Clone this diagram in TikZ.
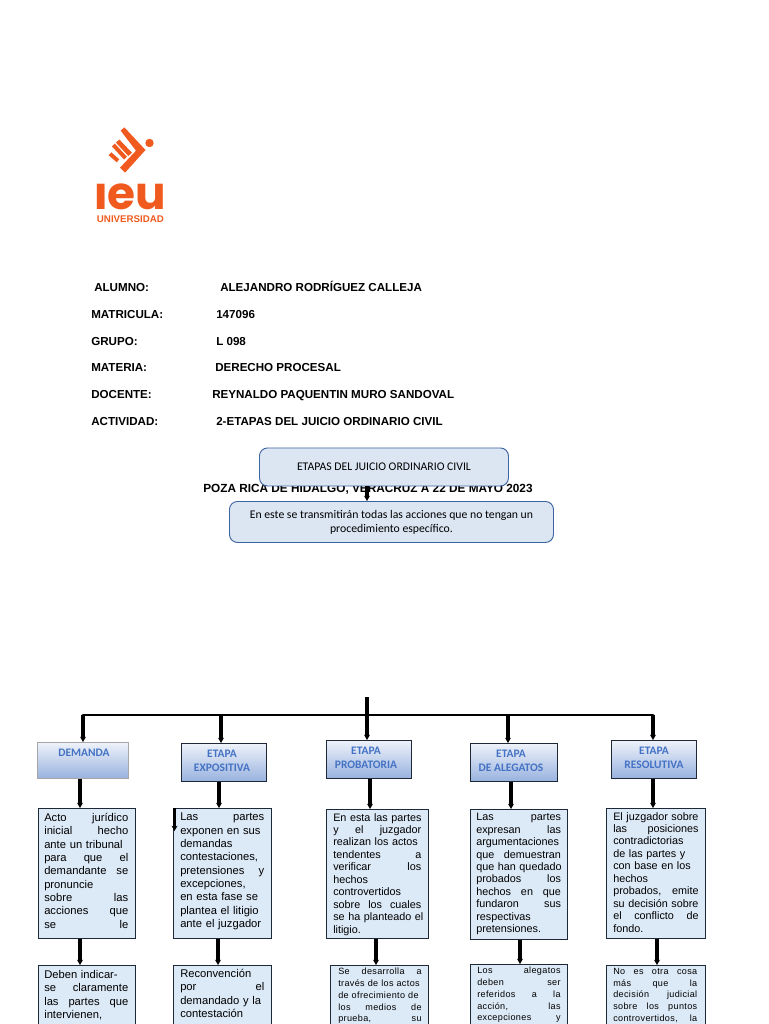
\documentclass[tikz,border=0pt]{standalone}
\usepackage{xcolor}
\usepackage{tikz}
\usepackage{fontspec}
\usetikzlibrary{arrows.meta}
\setmainfont{Liberation Sans}
\newfontfamily\calibri{Carlito}
\newfontfamily\popp{Poppins}
\newfontfamily\spaced[LetterSpace=4]{Liberation Sans}
\hyphenpenalty=10000
\definecolor{ieuorange}{RGB}{240, 90, 30}
\definecolor{etapablue}{RGB}{68, 114, 196}
\definecolor{boxblue}{RGB}{220, 233, 246}
\definecolor{roundblue}{RGB}{220, 230, 243}
\definecolor{roundedge}{RGB}{60, 100, 160}
\definecolor{darkedge}{RGB}{30, 40, 55}
\tikzset{
  datatext/.style={anchor=base west, inner sep=0pt, font=\bfseries\fontsize{8.7}{10}\selectfont},
  roundbox/.style={draw=roundedge, fill=roundblue, rounded corners=6pt, line width=0.7pt, anchor=north west, align=center, inner sep=0pt, font=\calibri\fontsize{8.8}{10.5}\selectfont},
  etapabox/.style={draw=darkedge, line width=0.7pt, top color=white!70!etapablue!30, bottom color=etapablue!55, anchor=north west, inner sep=0pt},
  etapatext/.style={inner sep=0pt, align=center, text=etapablue, font=\calibri\bfseries\fontsize{8.6}{10.5}\selectfont},
  bodybox/.style={draw=darkedge, fill=boxblue, line width=0.7pt, anchor=north west, inner sep=0pt},
  bodytext/.style={anchor=north west, inner sep=0pt, align=left, text width=63pt, font=\fontsize{8.4}{10}\selectfont},
  tighttext/.style={bodytext, font=\fontsize{8.1}{9.33}\selectfont},
  smalltext/.style={anchor=north west, inner sep=0pt, align=left, text width=62.5pt, font=\spaced\fontsize{6.8}{8.8}\selectfont},
  conn/.style={line width=2.4pt, -{Stealth[length=4pt,width=4.5pt]}},
  bar/.style={line width=2.2pt, line cap=round}
}
\begin{document}
\begin{tikzpicture}[x=0.75pt, y=-0.75pt]
\useasboundingbox (0,0) rectangle (768,1024);
\clip (0,0) rectangle (768,1024);

\fill[ieuorange] (120.7,130.7) -- (124.3,127.3) -- (145.5,150) -- (125,172.7) -- (120,167.7) -- (136,150.7) -- cycle;
\fill[ieuorange] (116,142.7) -- (119.3,139.5) -- (132,152.7) -- (128.3,156) -- cycle;
\fill[ieuorange] (112,146.5) -- (114.7,143.5) -- (127,156.7) -- (124,159.5) -- cycle;
\fill[ieuorange] (108.7,155.3) -- (111.3,152.3) -- (119.3,159.3) -- (116.7,162.3) -- cycle;
\fill[ieuorange] (149.5,143) circle (4.2);
\begin{scope}
\clip (90,183.5) rectangle (170,212);
\node[anchor=base, inner sep=0pt, text height=14pt, text depth=0pt, text=ieuorange, font=\popp\bfseries\fontsize{34}{34}\selectfont] (logoname) at (130,209) {ieu};
\end{scope}
\node[inner sep=0pt, text=ieuorange, font=\bfseries\fontsize{7.3}{7.3}\selectfont] (logouni) at (130.5,219) {UNIVERSIDAD};

\node[datatext] (alumno) at (94,291) {ALUMNO:};
\node[datatext] (alumnoval) at (220,291) {ALEJANDRO RODRÍGUEZ CALLEJA};
\node[datatext] (matricula) at (91,318) {MATRICULA:};
\node[datatext] (matriculaval) at (216,318) {147096};
\node[datatext] (grupo) at (91,345) {GRUPO:};
\node[datatext] (grupoval) at (216,345) {L 098};
\node[datatext] (materia) at (91,371) {MATERIA:};
\node[datatext] (materiaval) at (215,371) {DERECHO PROCESAL};
\node[datatext] (docente) at (91,398) {DOCENTE:};
\node[datatext] (docenteval) at (212,398) {REYNALDO PAQUENTIN MURO SANDOVAL};
\node[datatext] (actividad) at (91,425) {ACTIVIDAD:};
\node[datatext] (actividadval) at (216,425) {2-ETAPAS DEL JUICIO ORDINARIO CIVIL};
\node[datatext, font=\bfseries\fontsize{8.85}{10}\selectfont] (lugar) at (203,492) {POZA RICA DE HIDALGO, VERACRUZ A 22 DE MAYO  2023};

\node[roundbox, minimum width=186.75pt, minimum height=28.5pt] (titulo) at (259,447.5) {ETAPAS DEL JUICIO ORDINARIO CIVIL};
\node[roundbox, minimum width=243pt, minimum height=30.75pt] (intro) at (229,501) {En este se transmitirán todas las acciones que no tengan un\\procedimiento específico.};
\coordinate (xtit) at (367,0);
\draw[conn] (titulo.south -| xtit) -- (intro.north -| xtit);

\coordinate (raiz) at (367,697);
\coordinate (barl) at (83,715);
\coordinate (barr) at (653,715);
\draw[bar] (barl) -- (barr);

\node[etapabox, minimum width=68.25pt, minimum height=27pt, draw=gray!70] (hdem) at (37,742) {};
\node[etapabox, minimum width=63.75pt, minimum height=28.5pt] (hexp) at (181,743) {};
\node[etapabox, minimum width=63.75pt, minimum height=28.5pt] (hpro) at (326,740) {};
\node[etapabox, minimum width=65.25pt, minimum height=28.5pt] (hale) at (470,743) {};
\node[etapabox, minimum width=63.75pt, minimum height=28.5pt] (hres) at (611,740) {};
\node[etapatext] (tdem) at (84,753) {DEMANDA};
\node[etapatext] (texp) at (222,760.5) {ETAPA\\EXPOSITIVA};
\node[etapatext] (tpro) at (366,758) {ETAPA\\PROBATORIA};
\node[etapatext] (tale) at (511,760.5) {ETAPA\\ DE ALEGATOS};
\node[etapatext] (tres) at (654,758) {ETAPA\\RESOLUTIVA};

\coordinate (xexp) at (221,715);
\coordinate (xale) at (508,715);
\draw[conn] (barl) -- (hdem.north -| barl);
\draw[conn] (xexp) -- (hexp.north -| xexp);
\draw[conn] (raiz) -- (hpro.north -| raiz);
\draw[conn] (xale) -- (hale.north -| xale);
\draw[conn] (barr) -- (hres.north -| barr);

\node[bodybox, minimum width=72.75pt, minimum height=97.5pt] (bdem) at (38,808) {};
\node[bodybox, minimum width=73.5pt, minimum height=97.5pt] (bexp) at (173,808) {};
\node[bodybox, minimum width=76.5pt, minimum height=97pt] (bpro) at (326,809) {};
\node[bodybox, minimum width=72.75pt, minimum height=97.5pt] (bale) at (470,809) {};
\node[bodybox, minimum width=74.25pt, minimum height=97.5pt] (bres) at (606,808) {};

\node[bodytext] (cdem) at (44,813) {Acto\hfill jurídico\\inicial\hfill hecho\\ante un tribunal\\para\hfill que\hfill el\\demandante\hfill se\\pronuncie\\sobre\hfill las\\acciones\hfill que\\se\hfill le};
\node[bodytext] (cexp) at (180,813) {Las\hfill partes\\exponen en sus\\demandas\\contestaciones,\\pretensiones\hfill y\\excepciones,\\en esta fase se\\plantea el litigio\\ante el juzgador};
\node[tighttext, text width=66pt] (cpro) at (333,813) {\mbox{En esta las partes}\\y\hfill el\hfill juzgador\\realizan los actos\\tendentes\hfill a\\verificar\hfill los\\hechos\\controvertidos\\sobre\hfill los\hfill cuales\\\mbox{se ha planteado el}\\litigio.};
\node[tighttext, text width=63.5pt] (cale) at (476,813) {Las\hfill partes\\expresan\hfill las\\argumentaciones\\que\hfill demuestran\\\mbox{que han quedado}\\probados\hfill los\\hechos\hfill en\hfill que\\fundaron\hfill sus\\respectivas\\pretensiones.};
\node[tighttext, text width=64pt] (cres) at (613,812) {El juzgador sobre\\las\hfill posiciones\\contradictorias\\de las partes y\\con base en los\\hechos\\probados,\hfill emite\\su decisión sobre\\el\hfill conflicto\hfill de\\fondo.};

\node[bodybox, minimum width=72.75pt, minimum height=60pt] (ddem) at (38,965) {};
\node[bodybox, minimum width=73.5pt, minimum height=60pt] (dexp) at (173,965) {};
\node[bodybox, minimum width=73.5pt, minimum height=60pt] (dpro) at (330,965) {};
\node[bodybox, minimum width=72.75pt, minimum height=60pt] (dale) at (470,964) {};
\node[bodybox, minimum width=74.25pt, minimum height=60pt] (dres) at (606,965) {};

\node[bodytext] (edem) at (44,970) {Deben indicar-\\se\hfill claramente\\las\hfill partes\hfill que\\intervienen,};
\node[bodytext] (eexp) at (180,969) {Reconvención\\por\hfill el\\demandado y la\\contestación};
\node[smalltext] (epro) at (338,968) {Se\hfill desarrolla\hfill a\\través de los actos\\de ofrecimiento de\\los\hfill medios\hfill de\\prueba,\hfill su};
\node[smalltext] (eale) at (477,967) {Los\hfill alegatos\\deben\hfill ser\\referidos\hfill a\hfill la\\acción,\hfill las\\excepciones\hfill y};
\node[smalltext, text width=63pt] (eres) at (613,968) {No\hfill es\hfill otra\hfill cosa\\más\hfill que\hfill la\\decisión\hfill judicial\\sobre\hfill los\hfill puntos\\controvertidos,\hfill la};

\coordinate (y1) at (80,0);
\coordinate (y2) at (219,0);
\coordinate (y3) at (370,0);
\coordinate (y4) at (511,0);
\coordinate (y5) at (653,0);
\coordinate (z1) at (80,0);
\coordinate (z2) at (218,0);
\coordinate (z3) at (376,0);
\coordinate (z4) at (520,0);
\coordinate (z5) at (657,0);
\draw[conn] (hdem.south -| y1) -- (bdem.north -| y1);
\draw[conn] (hexp.south -| y2) -- (bexp.north -| y2);
\draw[conn] (hpro.south -| y3) -- (bpro.north -| y3);
\draw[conn] (hale.south -| y4) -- (bale.north -| y4);
\draw[conn] (hres.south -| y5) -- (bres.north -| y5);
\draw[conn] (bdem.south -| z1) -- (ddem.north -| z1);
\draw[conn] (bexp.south -| z2) -- (dexp.north -| z2);
\draw[conn] (bpro.south -| z3) -- (dpro.north -| z3);
\draw[conn] (bale.south -| z4) -- (dale.north -| z4);
\draw[conn] (bres.south -| z5) -- (dres.north -| z5);

\coordinate (suelto) at (174.5,808);
\coordinate (sueltob) at (174.5,831);
\draw[conn] (suelto) -- (sueltob);
\end{tikzpicture}
\end{document}
